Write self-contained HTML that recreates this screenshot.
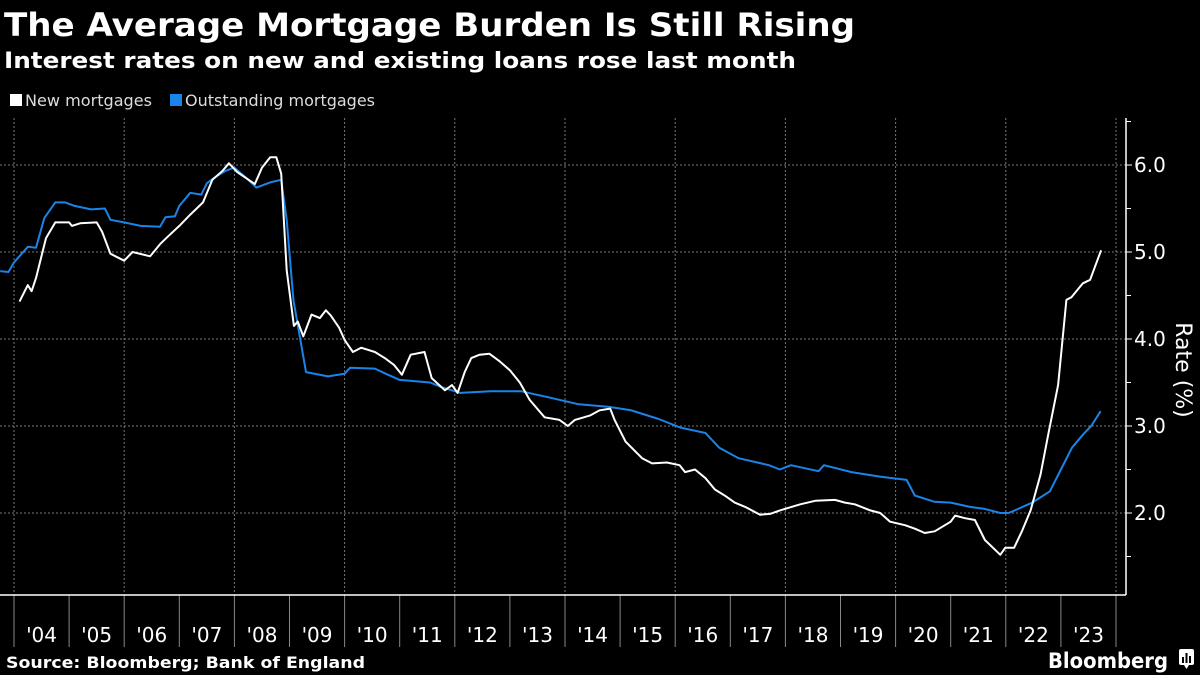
<!DOCTYPE html>
<html><head><meta charset="utf-8">
<style>
html,body{margin:0;padding:0;background:#000;}
svg{display:block;font-family:"DejaVu Sans","Liberation Sans",sans-serif;}
</style></head>
<body>
<svg id="chart" width="1200" height="675" viewBox="0 0 1200 675" xmlns="http://www.w3.org/2000/svg">
<rect x="0" y="0" width="1200" height="675" fill="#000"/>
<text x="4" y="36" fill="#fff" font-size="32" font-weight="bold" textLength="851" lengthAdjust="spacingAndGlyphs">The Average Mortgage Burden Is Still Rising</text>
<text x="4" y="68" fill="#fff" font-size="22" font-weight="bold" textLength="792" lengthAdjust="spacingAndGlyphs">Interest rates on new and existing loans rose last month</text>
<g>
<g>
<rect x="10" y="94" width="12" height="12" fill="#fff"/>
<text x="25" y="106" fill="#ddd" font-size="16" textLength="127" lengthAdjust="spacingAndGlyphs">New mortgages</text>
</g>
<g>
<rect x="170" y="94" width="12" height="12" fill="#1a84e8"/>
<text x="185" y="106" fill="#ddd" font-size="16" textLength="190" lengthAdjust="spacingAndGlyphs">Outstanding mortgages</text>
</g>
</g>
<g id="grid"></g>
<g id="axes"></g>
<g id="series"></g>
<text transform="translate(1176,370) rotate(90)" text-anchor="middle" fill="#fff" font-size="22">Rate (%)</text>
<text x="6" y="668" fill="#fff" font-size="16" font-weight="bold" textLength="359" lengthAdjust="spacingAndGlyphs">Source: Bloomberg; Bank of England</text>
<text x="1048" y="668" fill="#fff" font-size="21" font-weight="bold" textLength="120" lengthAdjust="spacingAndGlyphs">Bloomberg</text>
<g>
<rect x="1179" y="649" width="15" height="16" rx="2" fill="#fff"/>
<path d="M1184 665 L1186.5 669 L1189 665 Z" fill="#fff"/>
<rect x="1182" y="657" width="2" height="6" fill="#000"/>
<rect x="1185.5" y="653" width="2" height="10" fill="#000"/>
<rect x="1189" y="656" width="2" height="7" fill="#000"/>
</g>
</svg>
<script>
const yTicks = [2.0, 3.0, 4.0, 5.0, 6.0];
const yTickLabels = ["2.0", "3.0", "4.0", "5.0", "6.0"];
const years = [2004,2005,2006,2007,2008,2009,2010,2011,2012,2013,2014,2015,2016,2017,2018,2019,2020,2021,2022,2023];
const yearLabels = ["'04","'05","'06","'07","'08","'09","'10","'11","'12","'13","'14","'15","'16","'17","'18","'19","'20","'21","'22","'23"];
const outDates = [2003.75,2003.9,2004.0,2004.25,2004.4,2004.55,2004.75,2004.93,2005.1,2005.4,2005.65,2005.75,2006.0,2006.3,2006.65,2006.75,2006.92,2007.0,2007.2,2007.4,2007.5,2007.65,2007.83,2008.0,2008.2,2008.4,2008.65,2008.85,2008.95,2009.07,2009.3,2009.7,2010.0,2010.1,2010.55,2010.75,2011.0,2011.55,2011.75,2012.1,2012.65,2013.2,2013.7,2014.25,2014.8,2015.2,2015.7,2016.1,2016.55,2016.8,2017.15,2017.7,2017.9,2018.1,2018.6,2018.7,2019.2,2019.7,2020.2,2020.35,2020.7,2021.0,2021.35,2021.6,2021.9,2022.05,2022.2,2022.48,2022.8,2023.0,2023.2,2023.4,2023.55,2023.72];
const outValues = [4.78,4.77,4.88,5.06,5.05,5.39,5.57,5.57,5.53,5.49,5.5,5.37,5.34,5.3,5.29,5.4,5.41,5.53,5.68,5.66,5.79,5.86,5.93,5.97,5.86,5.74,5.8,5.83,5.37,4.45,3.62,3.57,3.6,3.67,3.66,3.6,3.53,3.5,3.45,3.38,3.4,3.4,3.33,3.25,3.22,3.18,3.08,2.98,2.92,2.75,2.63,2.55,2.5,2.55,2.48,2.55,2.47,2.42,2.38,2.2,2.13,2.12,2.07,2.05,2.0,2.0,2.04,2.12,2.25,2.5,2.75,2.9,3.0,3.17];
const newDates = [2004.1,2004.25,2004.32,2004.4,2004.58,2004.75,2005.0,2005.05,2005.2,2005.5,2005.6,2005.75,2006.0,2006.15,2006.47,2006.65,2006.78,2007.0,2007.2,2007.43,2007.6,2007.78,2007.9,2008.05,2008.37,2008.5,2008.65,2008.76,2008.85,2008.95,2009.08,2009.15,2009.25,2009.4,2009.55,2009.66,2009.75,2009.9,2010.0,2010.15,2010.3,2010.55,2010.73,2010.9,2011.04,2011.2,2011.45,2011.58,2011.82,2011.95,2012.05,2012.18,2012.3,2012.45,2012.63,2012.82,2013.0,2013.18,2013.36,2013.63,2013.9,2014.05,2014.18,2014.45,2014.63,2014.82,2014.9,2015.1,2015.4,2015.58,2015.85,2016.08,2016.18,2016.36,2016.55,2016.72,2016.9,2017.08,2017.27,2017.54,2017.72,2017.9,2018.27,2018.54,2018.9,2019.08,2019.26,2019.54,2019.72,2019.9,2020.17,2020.35,2020.53,2020.71,2021.0,2021.08,2021.26,2021.44,2021.62,2021.9,2021.99,2022.15,2022.3,2022.45,2022.63,2022.77,2022.95,2023.1,2023.19,2023.4,2023.53,2023.73];
const newValues = [4.43,4.62,4.55,4.7,5.16,5.34,5.34,5.3,5.33,5.34,5.23,4.98,4.9,5.0,4.95,5.09,5.17,5.3,5.43,5.57,5.83,5.93,6.02,5.92,5.78,5.97,6.09,6.09,5.9,4.79,4.15,4.2,4.03,4.28,4.24,4.33,4.27,4.13,3.99,3.85,3.9,3.85,3.78,3.7,3.59,3.82,3.85,3.55,3.41,3.47,3.38,3.62,3.78,3.82,3.83,3.74,3.64,3.5,3.3,3.1,3.07,3.0,3.07,3.12,3.18,3.2,3.07,2.82,2.63,2.57,2.58,2.55,2.47,2.5,2.4,2.27,2.2,2.12,2.07,1.98,1.99,2.03,2.1,2.14,2.15,2.12,2.1,2.03,2.0,1.9,1.86,1.82,1.77,1.79,1.9,1.97,1.94,1.92,1.69,1.52,1.6,1.6,1.8,2.03,2.44,2.9,3.47,4.45,4.48,4.64,4.68,5.02];

const NS = "http://www.w3.org/2000/svg";
const x0 = 14, yearW = 55.1;
function xScale(t){ return x0 + (t - 2004) * yearW; }
function yScale(v){ return 165 + (6 - v) * 87; }
function mk(tag, attrs, parent){ const e = document.createElementNS(NS, tag); for (const k in attrs) e.setAttribute(k, attrs[k]); parent.appendChild(e); return e; }
const grid = document.getElementById('grid'), axes = document.getElementById('axes'), series = document.getElementById('series');
const plotTop = 118, plotBottom = 595, axisX = 1126;

yTicks.forEach((v, i) => {
  const g = mk('line', {x1: 0, x2: axisX, y1: yScale(v), y2: yScale(v), stroke: '#777', 'stroke-width': 1, 'stroke-dasharray': '2,2'}, grid);
  
  
  const t = mk('line', {x1: axisX, x2: axisX + 6, y1: yScale(v), y2: yScale(v), stroke: '#fff', 'stroke-width': 1}, axes);
  
  
  const lb = mk('text', {x: axisX + 8, y: yScale(v) + 7, fill: '#fff', 'font-size': 20}, axes);
  lb.textContent = yTickLabels[i];
  
  
});
[1.5, 2.5, 3.5, 4.5, 5.5, 6.5].forEach(v => {
  const t = mk('line', {x1: axisX, x2: axisX + 5, y1: yScale(v), y2: yScale(v), stroke: '#fff', 'stroke-width': 1}, axes);
  
  
});
for (let yr = 2004; yr <= 2024; yr += 2) {
  const g = mk('line', {x1: xScale(yr), x2: xScale(yr), y1: plotTop, y2: plotBottom, stroke: '#777', 'stroke-width': 1, 'stroke-dasharray': '2,2'}, grid);
  
  
}
years.concat([2024]).forEach(yr => {
  const t = mk('line', {x1: xScale(yr), x2: xScale(yr), y1: plotBottom, y2: 647, stroke: '#888', 'stroke-width': 1}, axes);
  
  
});
years.forEach((yr, i) => {
  const lb = mk('text', {x: xScale(yr + 0.5), y: 642, fill: '#fff', 'font-size': 20, 'text-anchor': 'middle'}, axes);
  lb.textContent = yearLabels[i];
  
  
});
const xa = mk('line', {x1: 0, x2: axisX, y1: plotBottom, y2: plotBottom, stroke: '#fff', 'stroke-width': 1.5}, axes);


const ya = mk('line', {x1: axisX, x2: axisX, y1: plotTop, y2: plotBottom, stroke: '#fff', 'stroke-width': 1.5}, axes);



function path(dates, vals){ return dates.map((d, i) => (i ? 'L' : 'M') + xScale(d).toFixed(1) + ' ' + yScale(vals[i]).toFixed(1)).join(' '); }
const po = mk('path', {d: path(outDates, outValues), fill: 'none', stroke: '#1a84e8', 'stroke-width': 2, 'stroke-linejoin': 'round'}, series);


const pn = mk('path', {d: path(newDates, newValues), fill: 'none', stroke: '#fff', 'stroke-width': 2, 'stroke-linejoin': 'round'}, series);


</script>
</body></html>
